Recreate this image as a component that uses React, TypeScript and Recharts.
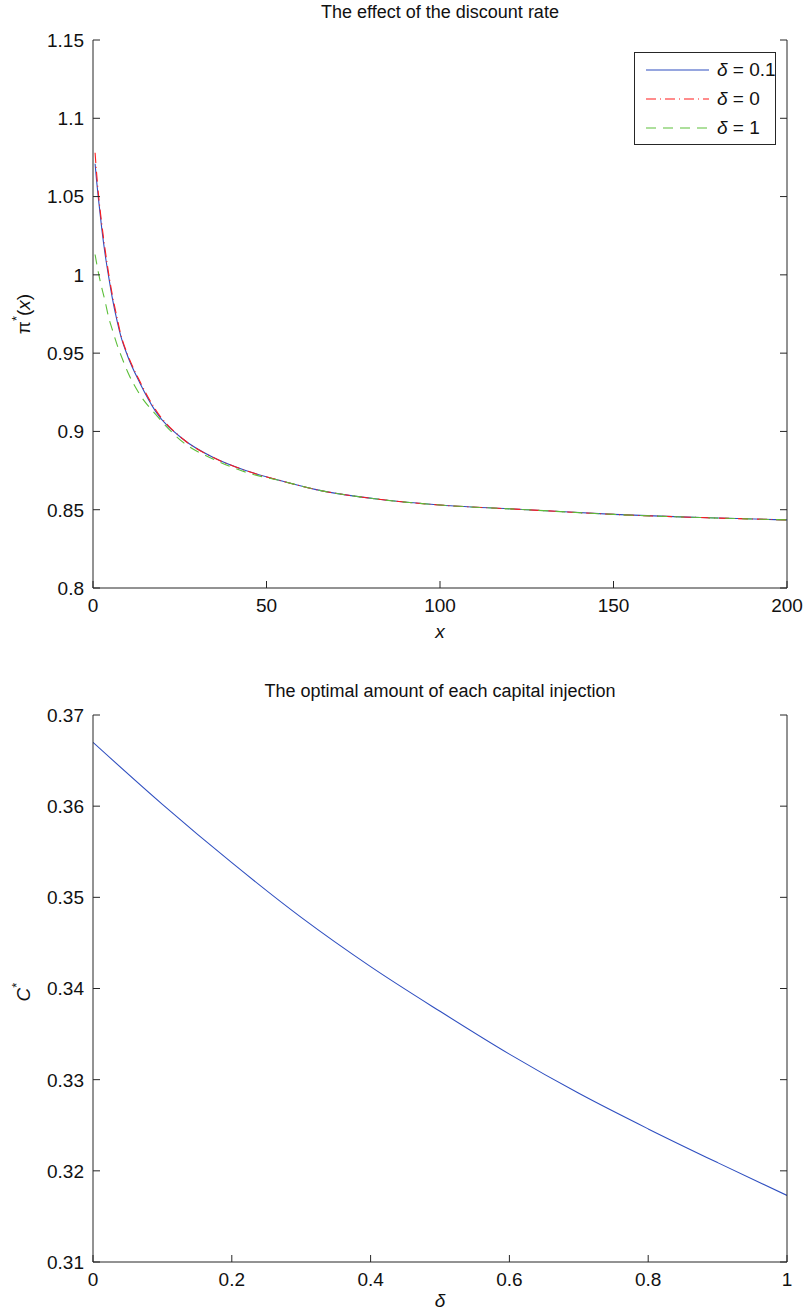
import { LineChart, Line, XAxis, YAxis, Label } from "recharts";

// top panel: pi*(x) for three discount rates
const xValues = [0.6, 1, 1.5, 2.5, 3.5, 4.5, 5.5, 7, 8, 10, 13.5, 18, 26, 35, 44, 55, 64, 83, 100, 125, 150, 175, 200];
const piDelta01 = [1.071, 1.061, 1.05, 1.03, 1.013, 0.999, 0.986, 0.97, 0.961, 0.948, 0.931, 0.913, 0.895, 0.883, 0.875, 0.868, 0.863, 0.8565, 0.853, 0.85, 0.847, 0.845, 0.8435];
const piDelta0 = [1.078, 1.066, 1.053, 1.033, 1.016, 1.001, 0.988, 0.972, 0.962, 0.949, 0.932, 0.914, 0.895, 0.883, 0.875, 0.868, 0.863, 0.8565, 0.853, 0.85, 0.847, 0.845, 0.8435];
const piDelta1 = [1.013, 1.008, 1.002, 0.992, 0.983, 0.973, 0.9655, 0.955, 0.949, 0.938, 0.9235, 0.911, 0.893, 0.882, 0.874, 0.868, 0.863, 0.8565, 0.853, 0.85, 0.847, 0.845, 0.8435];
const topXTicks = [0, 50, 100, 150, 200];
const topYTicks = [0.8, 0.85, 0.9, 0.95, 1, 1.05, 1.1, 1.15];

// bottom panel: C* against delta
const deltaValues = [0, 0.1, 0.2, 0.3, 0.4, 0.5, 0.6, 0.7, 0.8, 0.9, 1];
const capitalValues = [0.367, 0.3602, 0.3538, 0.3478, 0.3424, 0.3375, 0.3328, 0.3285, 0.3246, 0.3209, 0.3173];
const bottomXTicks = [0, 0.2, 0.4, 0.6, 0.8, 1];
const bottomYTicks = [0.31, 0.32, 0.33, 0.34, 0.35, 0.36, 0.37];

const series = [
  { key: "d01", label: "0.1", color: "#2f4fc0", dash: undefined as string | undefined },
  { key: "d0", label: "0", color: "#ff1a1a", dash: "10 4 1 4" },
  { key: "d1", label: "1", color: "#5cbf3a", dash: "10 7" },
];

const FONT = "'Liberation Sans', Arial, Helvetica, sans-serif";
const AXIS = "#262626";
const TICK_LEN = 7;
const GAP = 9;

// matlab style: ticks point into the plot box
const LeftTick = (p: any) => (
  <g>
    <line x1={p.x + GAP} y1={p.y} x2={p.x + GAP + TICK_LEN} y2={p.y} stroke={AXIS} />
    <text x={p.x} y={p.y} dy="0.36em" textAnchor="end" fontSize={19} fontFamily={FONT} fill="#111">
      {p.payload.value}
    </text>
  </g>
);
const BottomTick = (p: any) => (
  <g>
    <line x1={p.x} y1={p.y - GAP} x2={p.x} y2={p.y - GAP - TICK_LEN} stroke={AXIS} />
    <text x={p.x} y={p.y} dy="0.8em" textAnchor="middle" fontSize={19} fontFamily={FONT} fill="#111">
      {p.payload.value}
    </text>
  </g>
);
const RightTick = (p: any) => <line x1={p.x} y1={p.y} x2={p.x - TICK_LEN} y2={p.y} stroke={AXIS} />;
const TopTick = (p: any) => <line x1={p.x} y1={p.y} x2={p.x} y2={p.y + TICK_LEN} stroke={AXIS} />;

const RotatedLabel = ({ x, y, main, italic }: { x: number; y: number; main: string; italic?: boolean }) => (
  <text x={x} y={y} transform={`rotate(-90, ${x}, ${y})`} textAnchor="middle" fontSize={19} fontFamily={FONT} fill="#111">
    <tspan fontStyle={italic ? "italic" : "normal"}>{main}</tspan>
    <tspan fontSize={13} dy={-9}>*</tspan>
    {main === "π" && <tspan dy={9}>(</tspan>}
    {main === "π" && <tspan fontStyle="italic">x</tspan>}
    {main === "π" && <tspan>)</tspan>}
  </text>
);

const Legend = () => (
  <div
    style={{
      position: "absolute",
      left: 634,
      top: 52,
      width: 142,
      height: 93,
      border: `1.5px solid ${AXIS}`,
      background: "#fff",
      boxSizing: "border-box",
    }}
  >
    {series.map((s, i) => (
      <div key={s.key} style={{ position: "absolute", left: 11, top: 5 + i * 29, height: 24, display: "flex", alignItems: "center" }}>
        <svg width={64} height={6}>
          <line x1={0} y1={3} x2={63} y2={3} stroke={s.color} strokeWidth={1.2} strokeDasharray={s.dash} />
        </svg>
        <span style={{ marginLeft: 7, fontSize: 19, fontFamily: FONT, color: "#111", whiteSpace: "nowrap" }}>
          <i>δ</i> = {s.label}
        </span>
      </div>
    ))}
  </div>
);

const TopChart = () => {
  const data = xValues.map((x, i) => ({ x, d01: piDelta01[i], d0: piDelta0[i], d1: piDelta1[i] }));
  return (
    <LineChart width={807} height={650} data={data} margin={{ top: 40, right: 0, bottom: 32, left: 0 }}>
      <XAxis dataKey="x" type="number" domain={[0, 200]} ticks={topXTicks} height={30} stroke={AXIS}
        tickSize={0} tickLine={false} tickMargin={GAP} tick={<BottomTick />} allowDataOverflow>
        <Label content={({ viewBox }: any) => (
          <text x={viewBox.x + viewBox.width / 2} y={viewBox.y + 50} textAnchor="middle" fontSize={19}
            fontStyle="italic" fontFamily={FONT} fill="#111">x</text>
        )} />
      </XAxis>
      <XAxis xAxisId="top" orientation="top" dataKey="x" type="number" domain={[0, 200]} ticks={topXTicks}
        height={0} stroke={AXIS} tickSize={0} tickLine={false} tickMargin={0} tick={<TopTick />} allowDataOverflow />
      <YAxis type="number" domain={[0.8, 1.15]} ticks={topYTicks} width={93} stroke={AXIS}
        tickSize={0} tickLine={false} tickMargin={GAP} tick={<LeftTick />} allowDataOverflow>
        <Label content={() => <RotatedLabel x={30} y={314} main="π" italic={false} />} />
      </YAxis>
      <YAxis yAxisId="right" orientation="right" type="number" domain={[0.8, 1.15]} ticks={topYTicks}
        width={20} stroke={AXIS} tickSize={0} tickLine={false} tickMargin={0} tick={<RightTick />} allowDataOverflow />
      {series.map((s) => (
        <Line key={s.key} dataKey={s.key} type="monotone" stroke={s.color} strokeWidth={1.1}
          strokeDasharray={s.dash} dot={false} isAnimationActive={false} />
      ))}
    </LineChart>
  );
};

const BottomChart = () => {
  const data = deltaValues.map((d, i) => ({ d, c: capitalValues[i] }));
  return (
    <LineChart width={807} height={656} data={data} margin={{ top: 55, right: 0, bottom: 24, left: 0 }}>
      <XAxis dataKey="d" type="number" domain={[0, 1]} ticks={bottomXTicks} height={30} stroke={AXIS}
        tickSize={0} tickLine={false} tickMargin={GAP} tick={<BottomTick />} allowDataOverflow>
        <Label content={({ viewBox }: any) => (
          <text x={viewBox.x + viewBox.width / 2} y={viewBox.y + 45} textAnchor="middle" fontSize={19}
            fontStyle="italic" fontFamily={FONT} fill="#111">δ</text>
        )} />
      </XAxis>
      <XAxis xAxisId="top" orientation="top" dataKey="d" type="number" domain={[0, 1]} ticks={bottomXTicks}
        height={0} stroke={AXIS} tickSize={0} tickLine={false} tickMargin={0} tick={<TopTick />} allowDataOverflow />
      <YAxis type="number" domain={[0.31, 0.37]} ticks={bottomYTicks} width={93} stroke={AXIS}
        tickSize={0} tickLine={false} tickMargin={GAP} tick={<LeftTick />} allowDataOverflow>
        <Label content={() => <RotatedLabel x={30} y={332} main="C" italic />} />
      </YAxis>
      <YAxis yAxisId="right" orientation="right" type="number" domain={[0.31, 0.37]} ticks={bottomYTicks}
        width={20} stroke={AXIS} tickSize={0} tickLine={false} tickMargin={0} tick={<RightTick />} allowDataOverflow />
      <Line dataKey="c" type="monotone" stroke="#2f4fc0" strokeWidth={1.1} dot={false} isAnimationActive={false} />
    </LineChart>
  );
};

const titleStyle = {
  position: "absolute" as const,
  left: 93,
  width: 694,
  textAlign: "center" as const,
  fontSize: 18,
  fontFamily: FONT,
  color: "#111",
};

export default function App() {
  return (
    <div style={{ position: "absolute", left: 0, top: 0, width: 807, height: 1316, background: "#fff" }}>
      <div style={{ ...titleStyle, top: 2 }}>The effect of the discount rate</div>
      <div style={{ position: "absolute", left: 0, top: 0 }}>
        <TopChart />
      </div>
      <Legend />
      <div style={{ ...titleStyle, top: 681 }}>The optimal amount of each capital injection</div>
      <div style={{ position: "absolute", left: 0, top: 660 }}>
        <BottomChart />
      </div>
    </div>
  );
}
